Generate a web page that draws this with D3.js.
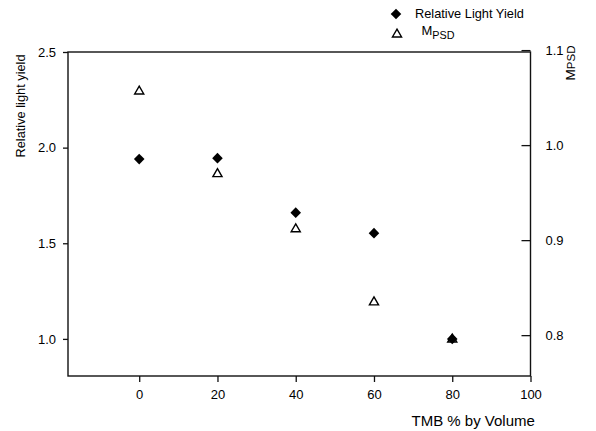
<!DOCTYPE html>
<html>
<head>
<meta charset="utf-8">
<script src="https://cdn.jsdelivr.net/npm/d3@7"></script>
<style>
  body { margin: 0; background: #fff; }
  text { font-family: "Liberation Sans", Arial, Helvetica, sans-serif; fill: #000; }
</style>
</head>
<body>
<div id="chart"></div>
<script>
// data
var tmb = [0, 20, 40, 60, 80];
var lightYield = [1.94, 1.945, 1.66, 1.553, 1.0];
var mpsd = [1.058, 0.971, 0.913, 0.836, 0.797];

var xTicks = [0, 20, 40, 60, 80, 100];
var leftTicks = [1.0, 1.5, 2.0, 2.5];
var rightTicks = [0.8, 0.9, 1.0, 1.1];

var W = 596, H = 431;
var margin = {top: 52, right: 65.5, bottom: 55, left: 68},
    width = W - margin.left - margin.right,
    height = H - margin.top - margin.bottom;

var svg = d3.select("#chart").append("svg")
    .attr("width", W)
    .attr("height", H);

var g = svg.append("g")
    .attr("transform", "translate(" + margin.left + "," + margin.top + ")");

// scales
var x = d3.scaleLinear().domain([-18.2, 100]).range([0, width]);
var yL = d3.scaleLinear().domain([0.806, 2.5]).range([height, 0]);
var yR = d3.scaleLinear().domain([0.757, 1.098]).range([height, 0]);

// frame
g.append("rect")
    .attr("width", width)
    .attr("height", height)
    .attr("fill", "none")
    .attr("stroke", "#111")
    .attr("stroke-width", 1.4);

// x axis
var gx = g.append("g")
    .attr("transform", "translate(0," + height + ")")
    .call(d3.axisBottom(x).tickValues(xTicks).tickSize(6).tickSizeOuter(0).tickPadding(8)
      .tickFormat(d3.format("d")));

// left axis
var gl = g.append("g")
    .call(d3.axisLeft(yL).tickValues(leftTicks).tickSize(5).tickSizeOuter(0).tickPadding(7)
      .tickFormat(d3.format(".1f")));

// right axis, ticks pointing inward
var gr = g.append("g")
    .attr("transform", "translate(" + width + ",0)")
    .call(d3.axisRight(yR).tickValues(rightTicks).tickSize(-9).tickSizeOuter(0).tickPadding(15)
      .tickFormat(d3.format(".1f")));

[gx, gl, gr].forEach(function(a) {
  a.select(".domain").remove();
  a.selectAll(".tick line").attr("stroke", "#111").attr("stroke-width", 1.3);
  a.selectAll(".tick text")
    .style("font-family", "'Liberation Sans', Arial, sans-serif")
    .style("font-size", "13px")
    .attr("fill", "#000");
});

// axis titles
svg.append("text")
    .attr("transform", "translate(24.5,106) rotate(-90)")
    .attr("text-anchor", "middle")
    .style("font-size", "12.8px")
    .text("Relative light yield");

var rt = svg.append("text")
    .attr("transform", "translate(575,63) rotate(-90)")
    .attr("text-anchor", "middle")
    .style("font-size", "13.5px");
rt.append("tspan").text("M");
rt.append("tspan").style("font-size", "11.5px").text("PSD");

svg.append("text")
    .attr("x", 411.5)
    .attr("y", 426)
    .style("font-size", "15px")
    .text("TMB % by Volume");

// markers
var diamond = d3.symbol().type(d3.symbolSquare).size(56);
var triangle = d3.symbol().type(d3.symbolTriangle).size(36);

var pts = tmb.map(function(t, i) { return {t: t, ly: lightYield[i], m: mpsd[i]}; });

g.selectAll(".ly")
  .data(pts)
  .enter().append("path")
    .attr("class", "ly")
    .attr("d", diamond)
    .attr("transform", function(d) { return "translate(" + x(d.t) + "," + yL(d.ly) + ") rotate(45)"; })
    .attr("fill", "#000");

g.selectAll(".mp")
  .data(pts)
  .enter().append("path")
    .attr("class", "mp")
    .attr("d", triangle)
    .attr("transform", function(d) { return "translate(" + x(d.t) + "," + (yR(d.m) + 1.3) + ")"; })
    .attr("fill", "none")
    .attr("stroke", "#000")
    .attr("stroke-width", 1.4);

// legend
var lg = svg.append("g");
lg.append("path")
    .attr("d", diamond)
    .attr("transform", "translate(396,14) rotate(45)")
    .attr("fill", "#000");
lg.append("text")
    .attr("x", 415)
    .attr("y", 17.5)
    .style("font-size", "12.8px")
    .text("Relative Light Yield");

lg.append("path")
    .attr("d", triangle)
    .attr("transform", "translate(397,34.3)")
    .attr("fill", "none")
    .attr("stroke", "#000")
    .attr("stroke-width", 1.4);
var lt = lg.append("text")
    .attr("x", 421.5)
    .attr("y", 34.7)
    .style("font-size", "13px");
lt.append("tspan").text("M");
lt.append("tspan").attr("dy", 4.5).style("font-size", "10.8px").text("PSD");
</script>
</body>
</html>
